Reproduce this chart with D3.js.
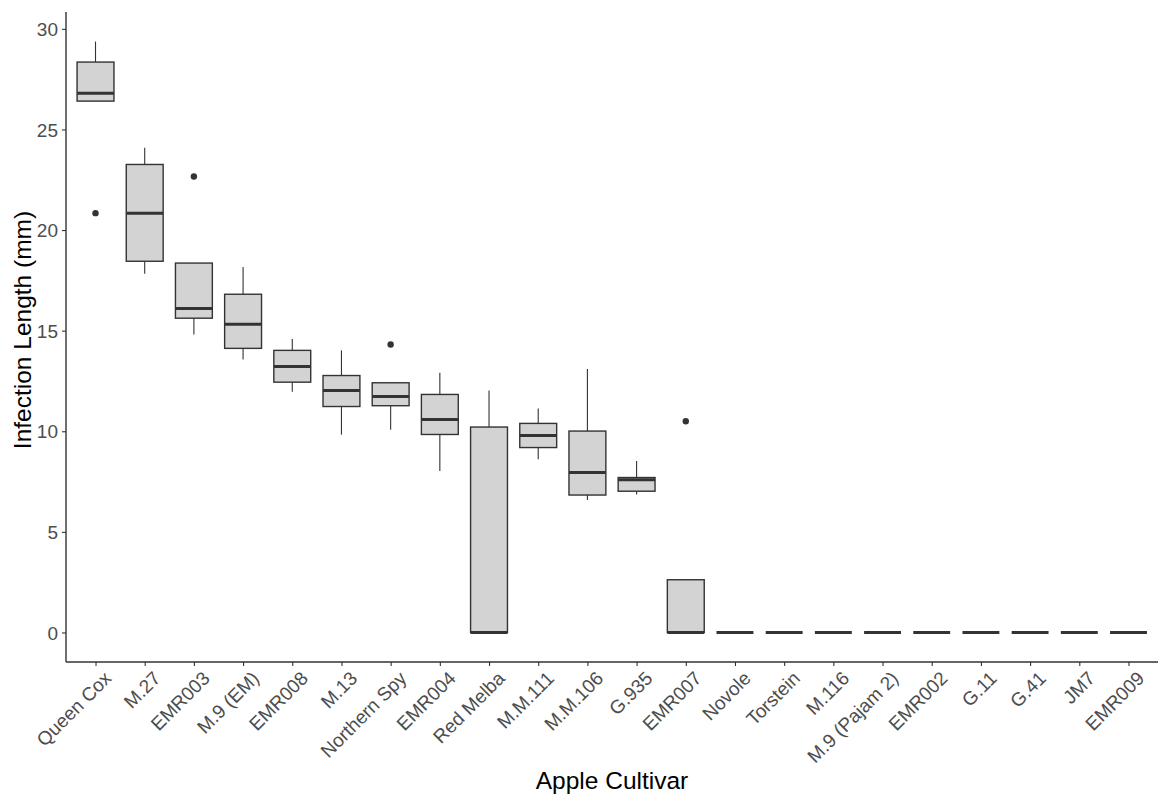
<!DOCTYPE html>
<html>
<head>
<meta charset="utf-8">
<script src="https://cdn.jsdelivr.net/npm/d3@7"></script>
<style>
  html, body { margin: 0; padding: 0; background: #fff; }
  svg { display: block; font-family: "Liberation Sans", Arial, Helvetica, sans-serif; }
</style>
</head>
<body>
<svg id="chart" width="1160" height="794"></svg>
<script>
const categories = ["Queen Cox","M.27","EMR003","M.9 (EM)","EMR008","M.13","Northern Spy","EMR004","Red Melba","M.M.111","M.M.106","G.935","EMR007","Novole","Torstein","M.116","M.9 (Pajam 2)","EMR002","G.11","G.41","JM7","EMR009"];
const whiskerLow  = [26.41,17.83,14.81,13.57,11.96, 9.83,10.07, 8.02, 0, 8.61, 6.58, 6.86, 0, 0,0,0,0,0,0,0,0,0];
const q1          = [26.41,18.45,15.62,14.12,12.44,11.23,11.27, 9.84, 0, 9.19, 6.83, 7.02, 0, 0,0,0,0,0,0,0,0,0];
const medians     = [26.80,20.84,16.10,15.32,13.22,12.03,11.73,10.59, 0, 9.79, 7.95, 7.59, 0, 0,0,0,0,0,0,0,0,0];
const q3          = [28.35,23.26,18.36,16.81,14.02,12.77,12.41,11.83,10.21,10.39,10.01, 7.70, 2.62, 0,0,0,0,0,0,0,0,0];
const whiskerHigh = [29.37,24.09,18.36,18.16,14.58,14.02,12.41,12.91,12.03,11.13,13.10, 8.52, 2.62, 0,0,0,0,0,0,0,0,0];
const outlierCats   = ["Queen Cox","EMR003","Northern Spy","EMR007"];
const outlierValues = [20.84, 22.66, 14.31, 10.50];
const yTicks = [0,5,10,15,20,25,30];

const svg = d3.select("#chart");
const mLeft = 66, mRight = 1158, mTop = 12, mBottom = 662;

const x = d3.scalePoint().domain(categories).range([mLeft, mRight]).padding(0.6);
const yMin = 0, yMax = d3.max(whiskerHigh);
const pad = (yMax - yMin) * 0.05;
const y = d3.scaleLinear().domain([yMin - pad, yMax + pad]).range([mBottom, mTop]);
const boxW = x.step() * 0.75;
const dark = "#333333";

const data = categories.map((c, i) => ({c, lo: whiskerLow[i], q1: q1[i], med: medians[i], q3: q3[i], hi: whiskerHigh[i]}));

const g = svg.append("g");
const boxes = g.selectAll("g.box").data(data).join("g").attr("class", "box");
boxes.append("line")
  .attr("x1", d => x(d.c)).attr("x2", d => x(d.c))
  .attr("y1", d => y(d.q3)).attr("y2", d => y(d.hi))
  .attr("stroke", dark).attr("stroke-width", 1.1);
boxes.append("line")
  .attr("x1", d => x(d.c)).attr("x2", d => x(d.c))
  .attr("y1", d => y(d.q1)).attr("y2", d => y(d.lo))
  .attr("stroke", dark).attr("stroke-width", 1.1);
boxes.append("rect")
  .attr("x", d => x(d.c) - boxW / 2).attr("width", boxW)
  .attr("y", d => y(d.q3)).attr("height", d => y(d.q1) - y(d.q3))
  .attr("fill", "#D3D3D3").attr("stroke", dark).attr("stroke-width", 1.4);
boxes.append("line")
  .attr("x1", d => x(d.c) - boxW / 2).attr("x2", d => x(d.c) + boxW / 2)
  .attr("y1", d => y(d.med)).attr("y2", d => y(d.med))
  .attr("stroke", dark).attr("stroke-width", 3);

g.selectAll("circle.out").data(outlierCats.map((c, i) => ({c, v: outlierValues[i]}))).join("circle")
  .attr("class", "out")
  .attr("cx", d => x(d.c)).attr("cy", d => y(d.v)).attr("r", 3.2).attr("fill", dark);

const yAxis = d3.axisLeft(y).tickValues(yTicks).tickSize(4).tickPadding(4);
const yg = svg.append("g").attr("transform", `translate(${mLeft},0)`).call(yAxis);
yg.select(".domain").remove();
yg.append("line").attr("x1", 0).attr("x2", 0).attr("y1", mTop).attr("y2", mBottom).attr("stroke", dark).attr("stroke-width", 1.4);
yg.selectAll(".tick line").attr("stroke", dark).attr("stroke-width", 1.1);
yg.selectAll(".tick text").attr("fill", "#4D4D4D").style("font-size", "19px").attr("dy", "0.35em");

const xAxis = d3.axisBottom(x).tickSize(4).tickPadding(0);
const xg = svg.append("g").attr("transform", `translate(0,${mBottom})`).call(xAxis);
xg.select(".domain").remove();
xg.append("line").attr("x1", mLeft).attr("x2", mRight).attr("y1", 0).attr("y2", 0).attr("stroke", dark).attr("stroke-width", 1.4);
xg.selectAll(".tick line").attr("stroke", dark).attr("stroke-width", 1.1);
xg.selectAll(".tick text")
  .attr("fill", "#4D4D4D").style("font-size", "19px")
  .attr("text-anchor", "end")
  .attr("transform", "translate(7,8) rotate(-45)")
  .attr("x", 0).attr("y", 0).attr("dy", "0.71em");

svg.append("text").attr("x", (mLeft + mRight) / 2).attr("y", 789)
  .attr("text-anchor", "middle").style("font-size", "24.5px").attr("fill", "#000")
  .text("Apple Cultivar");
svg.append("text").attr("transform", `translate(31,330) rotate(-90)`)
  .attr("text-anchor", "middle").style("font-size", "24.5px").attr("fill", "#000")
  .text("Infection Length (mm)");
</script>
</body>
</html>
